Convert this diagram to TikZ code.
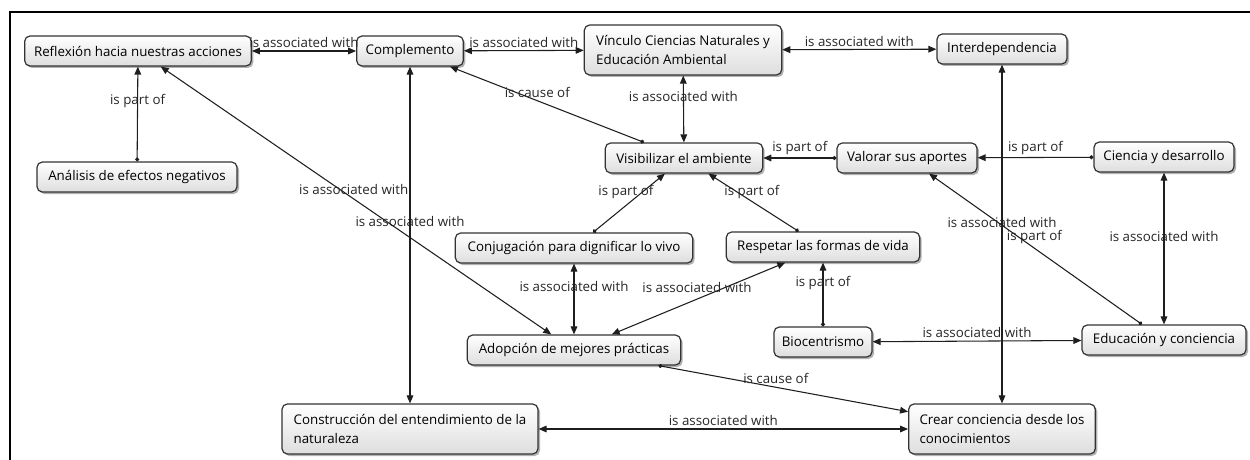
\documentclass[tikz,border=0pt]{standalone}
\usepackage{fontspec}
\setmainfont{Open Sans}
\usetikzlibrary{arrows.meta}
\usetikzlibrary{shadows}

\definecolor{conceptline}{HTML}{333333}
\definecolor{linkline}{HTML}{1E1E1E}

\tikzset{
  concept/.style={draw=conceptline, line width=0.9pt, rounded corners=4pt,
    top color=white, bottom color=black!13,
    drop shadow={shadow xshift=1.5pt, shadow yshift=-1.5pt, opacity=0.5, fill=black!60},
    minimum height=22.5pt, inner xsep=3pt, font=\fontsize{10}{14.5}\selectfont},
  twolines/.style={concept, align=left, minimum height=37.5pt},
  link/.style={draw=linkline, line width=0.8pt},
  both/.style={link, {Triangle[length=6pt,width=5pt]}-{Triangle[length=6pt,width=5pt]}},
  part/.style={link, {Circle[length=3pt]}-{Triangle[length=6pt,width=5pt]}},
  phrase/.style={font=\fontsize{10}{12}\selectfont, text=black!85, inner sep=2pt},
}

\begin{document}
\begin{tikzpicture}[x=0.75pt, y=-0.75pt]
\useasboundingbox (0,0) rectangle (1250,460);
\draw[line width=1.8pt] (1250,12) -- (10,12) -- (10,460);

% concepts
\node[concept, minimum width=170pt] (refl) at (138,51) {Reflexión hacia nuestras acciones};
\node[concept, minimum width=80pt] (compl) at (410,51) {Complemento};
\node[twolines, minimum width=148pt] (vinc) at (683,50) {Vínculo Ciencias Naturales y\\Educación Ambiental};
\node[concept, minimum width=97.5pt] (interd) at (1002,49) {Interdependencia};
\node[concept, minimum width=150pt] (analisis) at (137,177) {Análisis de efectos negativos};
\node[concept, minimum width=118pt] (visib) at (684,158) {Visibilizar el ambiente};
\node[concept, minimum width=105pt] (valorar) at (907,158) {Valorar sus aportes};
\node[concept, minimum width=105pt] (ciencia) at (1164,157) {Ciencia y desarrollo};
\node[concept, minimum width=178pt] (conjug) at (574,248) {Conjugación para dignificar lo vivo};
\node[concept, minimum width=145pt] (respetar) at (823,247) {Respetar las formas de vida};
\node[concept, minimum width=160pt] (adopcion) at (574,350) {Adopción de mejores prácticas};
\node[concept, minimum width=73.5pt] (biocent) at (823,342) {Biocentrismo};
\node[concept, minimum width=123pt] (educ) at (1164,340) {Educación y conciencia};
\node[twolines, minimum width=192pt] (constr) at (410,429) {Construcción del entendimiento de la\\naturaleza};
\node[twolines, minimum width=140pt] (crear) at (1002,429) {Crear conciencia desde los\\conocimientos};

% links
\draw[both] (refl) -- node[phrase, above]{is associated with} (compl);
\draw[both] (compl) -- node[phrase, above]{is associated with} (vinc);
\draw[both] (vinc) -- node[phrase, above]{is associated with} (interd);
\draw[part] (analisis) -- node[phrase, pos=0.64]{is part of} (refl);
\draw[both] (compl) -- node[phrase, pos=0.46]{is associated with} (constr);
\draw[both] (refl) -- node[phrase, pos=0.46, xshift=10pt]{is associated with} (adopcion);
\draw[part] (visib) -- node[phrase, pos=0.55, above]{is cause of} (compl);
\draw[both] (vinc) -- node[phrase, pos=0.32]{is associated with} (visib);
\draw[part] (valorar) -- node[phrase, above]{is part of} (visib);
\draw[part] (ciencia) -- node[phrase, above]{is part of} (valorar);
\draw[both] (interd) -- node[phrase, pos=0.465]{is associated with} (crear);
\draw[part] (educ) -- node[phrase, pos=0.58, xshift=12pt]{is part of} (valorar);
\draw[both] (ciencia) -- node[phrase, pos=0.42]{is associated with} (educ);
\draw[part] (conjug) -- node[phrase, pos=0.68, xshift=-12pt]{is part of} (visib);
\draw[part] (respetar) -- node[phrase, pos=0.68, xshift=11pt]{is part of} (visib);
\draw[both] (conjug) -- node[phrase, pos=0.33]{is associated with} (adopcion);
\draw[both] (respetar) -- node[phrase, pos=0.34, xshift=-22pt]{is associated with} (adopcion);
\draw[part] (biocent) -- node[phrase, pos=0.68]{is part of} (respetar);
\draw[both] (biocent) -- node[phrase, above]{is associated with} (educ);
\draw[part] (adopcion) -- node[phrase, pos=0.47, above]{is cause of} (crear);
\draw[both] (constr) -- node[phrase, above]{is associated with} (crear);
\end{tikzpicture}
\end{document}
